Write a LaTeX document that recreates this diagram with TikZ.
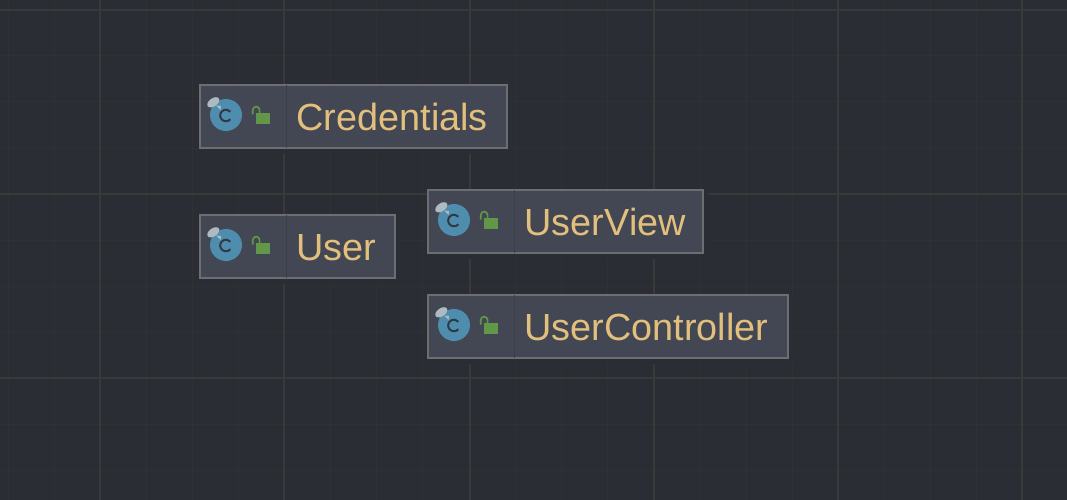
\documentclass[tikz,border=0pt]{standalone}
\usepackage{fontspec}
\setmainfont{Liberation Sans}
\usetikzlibrary{calc}
\definecolor{bgc}{HTML}{2B2D35}
\definecolor{minorc}{HTML}{313133}
\definecolor{majorc}{HTML}{39393A}
\definecolor{boxc}{HTML}{424753}
\definecolor{edgec}{HTML}{6C6E72}
\definecolor{divc}{HTML}{3B3F4A}
\definecolor{namec}{HTML}{E2BF7D}
\definecolor{iconc}{HTML}{4F8DAF}
\definecolor{pinc}{HTML}{AEB9C0}
\definecolor{letterc}{HTML}{2F3A47}
\definecolor{lockc}{HTML}{629749}
\tikzset{
  minorline/.style={draw=minorc,line width=1pt},
  majorline/.style={draw=majorc,line width=1.4pt},
  umlbox/.style={rectangle,draw=edgec,line width=2.2pt,fill=boxc,anchor=north west,minimum height=63pt,inner sep=0pt,outer sep=0pt},
  shadowbox/.style={fill=bgc,draw=none},
  namelabel/.style={anchor=base west,text=namec,font=\fontsize{37.8}{42}\selectfont,inner sep=0pt},
}
\newcommand{\classbox}[4]{%
  \fill[shadowbox] (#2,#3) rectangle ++(#4+5,69);
  \node[umlbox,minimum width=#4*1pt] (#1) at (#2,#3) {};
  \begin{scope}[shift={(#2,#3)}]
    \draw[divc,line width=1pt] (86,0) -- (86,63);
    \fill[iconc] (26,30) circle (16);
    \begin{scope}[shift={(13.3,17.3)},rotate=35]
      \fill[pinc] (0,0) ellipse (6.8 and 4);
    \end{scope}
    \fill[pinc] (16,20.5) -- (21,21) -- (20.5,25) -- cycle;
    \draw[letterc,line width=2pt] (30.4,34.2) arc[start angle=40,end angle=320,radius=5.8];
    \fill[lockc] (56,28) rectangle (70,39.3);
    \draw[lockc,line width=1.7pt] (52.8,29.5) -- (52.8,25) arc[start angle=180,end angle=360,radius=3.4] -- (59.6,28);
  \end{scope}
}
\begin{document}
\begin{tikzpicture}[x=1pt,y=-1pt]
\useasboundingbox (0,0) rectangle (1067,500);
\fill[bgc] (0,0) rectangle (1067,500);
\foreach \gx in {8,54,146,192,238,330,376,422,515,561,607,700,746,792,884,930,976}{\draw[minorline] (\gx,0) -- (\gx,500);}
\foreach \gy in {56,102,148,240,286,332,424,470}{\draw[minorline] (0,\gy) -- (1067,\gy);}
\foreach \gx in {100,284,470,654,838,1022}{\draw[majorline] (\gx,0) -- (\gx,500);}
\foreach \gy in {10,194,378}{\draw[majorline] (0,\gy) -- (1067,\gy);}
\classbox{credentials}{200}{85}{307}
\classbox{user}{200}{215}{195}
\classbox{userview}{428}{190}{275}
\classbox{usercontroller}{428}{295}{360}
\node[namelabel] (credentialsname) at (296.5,130) {Credentials};
\node[namelabel] (username) at (296.5,260) {User};
\node[namelabel] (userviewname) at (524.5,235) {UserView};
\node[namelabel] (usercontrollername) at (524.5,340) {UserController};
\end{tikzpicture}
\end{document}
